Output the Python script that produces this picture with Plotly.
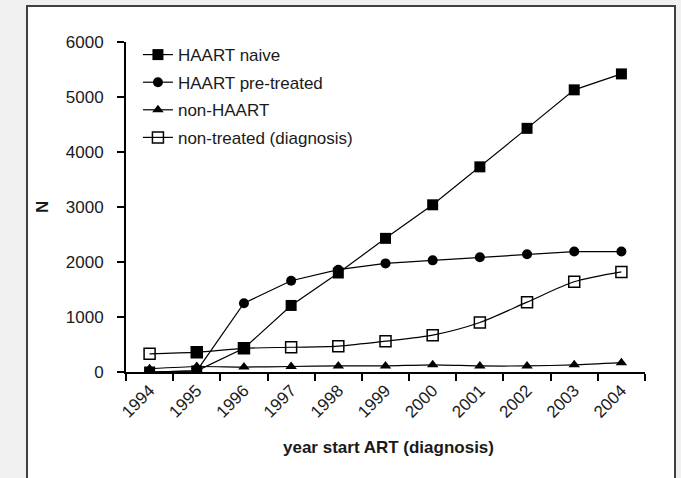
import plotly.graph_objects as go

years = ["1994", "1995", "1996", "1997", "1998", "1999", "2000", "2001", "2002", "2003", "2004"]
haart_naive = [0, 20, 430, 1210, 1800, 2430, 3040, 3730, 4430, 5130, 5420]
haart_pretreated = [0, 20, 1250, 1660, 1860, 1975, 2030, 2085, 2140, 2190, 2190]
non_haart = [60, 100, 90, 100, 110, 110, 130, 110, 110, 130, 170]
non_treated = [330, 360, 430, 450, 470, 560, 670, 900, 1270, 1640, 1820]

FONT = "Liberation Sans, Arial, sans-serif"
FS = 17
TXT = "#1a1a1a"

fig = go.Figure()

fig.add_trace(go.Scatter(
    x=years, y=haart_naive, name="HAART naive", mode="lines+markers",
    legendgroup="a",
    line=dict(color="black", width=1.2),
    marker=dict(symbol="square", size=11, color="black"),
))
fig.add_trace(go.Scatter(
    x=years, y=haart_pretreated, name="HAART pre-treated", mode="lines+markers",
    legendgroup="b",
    line=dict(color="black", width=1.2),
    marker=dict(symbol="circle", size=10, color="black"),
))
fig.add_trace(go.Scatter(
    x=years, y=non_haart, name="non-HAART", mode="lines+markers",
    legendgroup="c",
    line=dict(color="black", width=1.2, shape="spline", smoothing=0.6),
    marker=dict(symbol="triangle-up", size=10, color="black"),
))
nt_symbols = ["square-open"] * len(years)
nt_symbols[1] = "square"
fig.add_trace(go.Scatter(
    x=years, y=non_treated, name="non-treated (diagnosis)", mode="lines+markers",
    legendgroup="d",
    line=dict(color="black", width=1.2, shape="spline", smoothing=0.8),
    marker=dict(symbol=nt_symbols, size=11, color="black",
                line=dict(color="black", width=1.5)),
))

fig.update_layout(
    width=681, height=478,
    margin=dict(l=126, r=36, t=42, b=106),
    paper_bgcolor="#f0f0f0",
    plot_bgcolor="white",
    font=dict(family=FONT, size=FS, color=TXT),
    showlegend=True,
    legend=dict(
        x=0.023, y=1.015, xanchor="left", yanchor="top",
        bgcolor="rgba(0,0,0,0)", borderwidth=0,
        traceorder="grouped", tracegroupgap=2.5,
        font=dict(family=FONT, size=FS, color=TXT),
    ),
    xaxis=dict(
        type="category", range=[-0.5, 10.5],
        showline=True, linecolor="black", linewidth=2,
        ticks="outside", tickson="boundaries", ticklen=7, tickwidth=2, tickcolor="black",
        tickangle=-45, showgrid=False, zeroline=False,
        tickfont=dict(family=FONT, size=FS, color=TXT),
    ),
    yaxis=dict(
        range=[0, 6000], dtick=1000,
        showline=True, linecolor="black", linewidth=2,
        ticks="outside", ticklen=7, tickwidth=2, tickcolor="black",
        showgrid=False, zeroline=False, ticklabelstandoff=10,
        tickfont=dict(family=FONT, size=FS, color=TXT),
    ),
    shapes=[dict(
        type="rect", xref="paper", yref="paper", layer="below",
        x0=(27 - 126) / 519, x1=(675 - 126) / 519,
        y0=(372 - 495) / 330, y1=(372 - 6) / 330,
        fillcolor="white", line=dict(color="#404040", width=2),
    )],
    annotations=[
        dict(text="<b>year start ART (diagnosis)</b>", xref="paper", yref="paper",
             x=(388 - 126) / 519, y=(372 - 447) / 330, showarrow=False,
             xanchor="center", yanchor="middle",
             font=dict(family=FONT, size=FS, color=TXT)),
        dict(text="<b>N</b>", xref="paper", yref="paper",
             x=(42 - 126) / 519, y=(372 - 207) / 330, showarrow=False,
             textangle=-90, xanchor="center", yanchor="middle",
             font=dict(family=FONT, size=FS, color=TXT)),
    ],
)

fig.write_html("out.html", config={"displayModeBar": False},
               post_script="document.body.style.margin='0';document.body.style.overflow='hidden';")
